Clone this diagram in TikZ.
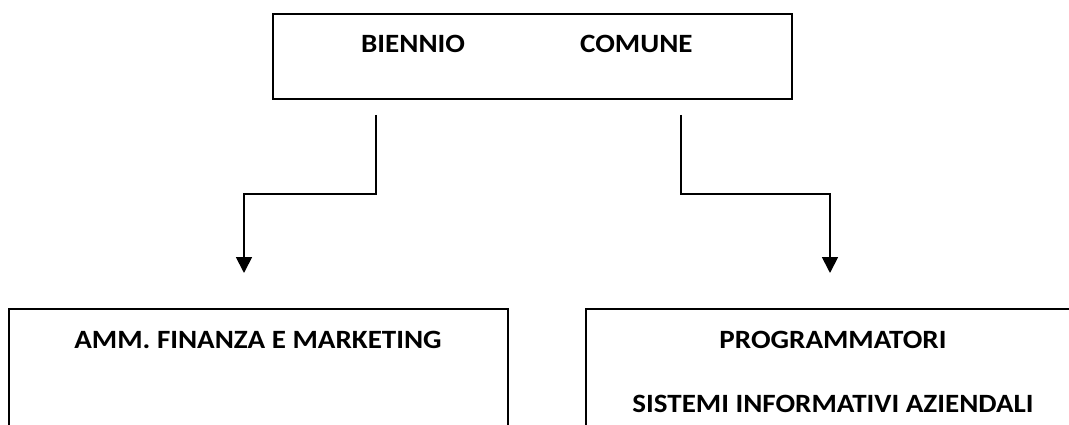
\documentclass[tikz,border=0pt]{standalone}
\usepackage{fontspec}
\setmainfont{Carlito}
\usetikzlibrary{arrows.meta}
\tikzset{
  box/.style={draw=black, line width=2pt, rectangle, inner sep=0pt, fill=white},
  lbl/.style={font=\fontsize{26.4}{32}\selectfont\bfseries, inner sep=0pt, anchor=base},
  conn/.style={draw=black, line width=1.8pt, -{Triangle[width=16pt,length=16pt]}, line join=miter}
}
\newcommand{\widetxt}[1]{\scalebox{1.1}[1]{#1}}
\begin{document}
\begin{tikzpicture}[x=1pt,y=-1pt]
\useasboundingbox (0,0) rectangle (1069,425);
\clip (0,0) rectangle (1069,425);
\fill[white] (0,0) rectangle (1069,425);
% boxes
\node[box, minimum width=519pt, minimum height=85pt] (top) at (532.5,56.5) {};
\node[box, minimum width=499.5pt, minimum height=200pt] (left) at (258.25,409) {};
\node[box, minimum width=494pt, minimum height=200pt] (right) at (833,409) {};
% texts
\node[lbl, anchor=base west] (t1) at (361,53) {\widetxt{BIENNIO}};
\node[lbl, anchor=base west] (t2) at (580,53) {\widetxt{COMUNE}};
\node[lbl] (l1) at (258,348) {\widetxt{AMM. FINANZA E MARKETING}};
\node[lbl] (r1) at (833,348) {\widetxt{PROGRAMMATORI}};
\node[lbl] (r2) at (833,412) {\widetxt{SISTEMI INFORMATIVI AZIENDALI}};
% connectors
\coordinate (ls) at (376,115);
\coordinate (le) at (244,273);
\coordinate (rs) at (681,115);
\coordinate (re) at (830,273);
\draw[conn] (ls) -- (376,194) -- (244,194) -- (le);
\draw[conn] (rs) -- (681,194) -- (830,194) -- (re);
\end{tikzpicture}
\end{document}
